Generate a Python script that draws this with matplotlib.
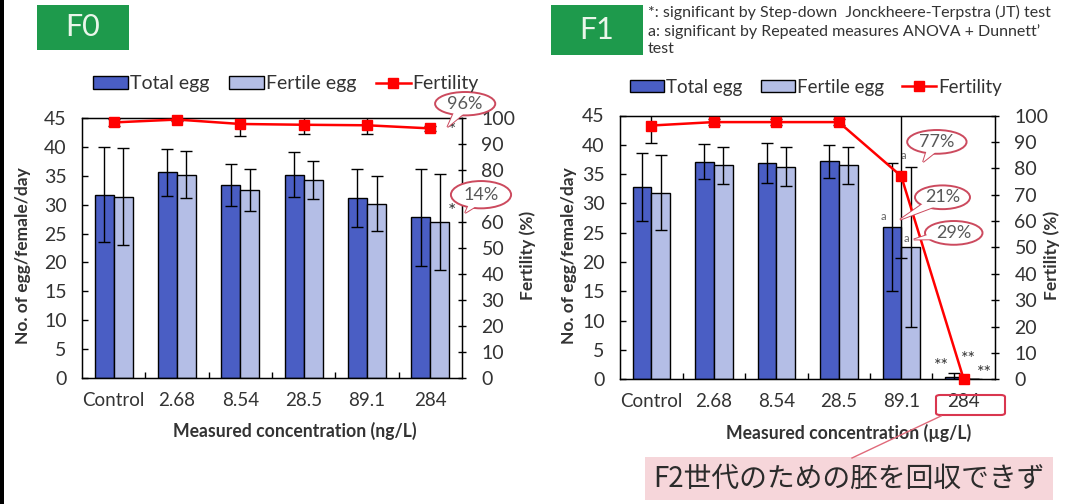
import matplotlib
matplotlib.use("Agg")
import matplotlib.pyplot as plt
import numpy as np
from matplotlib.patches import Patch, Ellipse, Polygon, Rectangle, FancyBboxPatch
from matplotlib.lines import Line2D

plt.rcParams['font.family'] = ['Lato', 'Noto Sans CJK JP', 'DejaVu Sans']

# ---- data -------------------------------------------------------------
categories = ["Control", "2.68", "8.54", "28.5", "89.1", "284"]

f0_total = [31.7, 35.6, 33.4, 35.2, 31.2, 27.8]
f0_total_err = [8.2, 4.1, 3.6, 3.9, 5.0, 8.4]
f0_fertile = [31.4, 35.2, 32.5, 34.2, 30.2, 27.0]
f0_fertile_err = [8.4, 4.1, 3.6, 3.3, 4.8, 8.3]
f0_fertility = [98.3, 99.4, 97.7, 97.4, 97.2, 96.0]
f0_fertility_err = [1.5, 0.5, 4.8, 3.4, 3.4, 1.0]

f1_total = [32.8, 37.1, 36.9, 37.2, 26.0, 0.4]
f1_total_err = [5.8, 3.0, 3.4, 2.8, 10.9, 0.7]
f1_fertile = [31.8, 36.5, 36.3, 36.5, 22.6, 0.0]
f1_fertile_err = [6.4, 3.2, 3.4, 3.2, 13.7, 0.0]
f1_fertility = [96.2, 97.5, 97.5, 97.5, 77.0, 0.0]
f1_fertility_err = [6.6, 1.0, 1.0, 1.0, 31.1, 0.0]

# ---- style ------------------------------------------------------------
TOTAL_C = '#4a5ec4'
FERTILE_C = '#b4bee6'
LINE_C = '#ff0000'
TEXT_C = '#333333'
BUBBLE_EC = '#cc4a5e'
W, H = 1070, 504

fig = plt.figure(figsize=(W / 100, H / 100), dpi=100)
fig.patch.set_facecolor('white')


def fx(x):
    return x / W


def fy(y):
    return 1 - y / H


def draw_panel(rect, total, total_err, fertile, fertile_err, fert, fert_err, xlabel):
    left, top, right, bottom = rect
    ax = fig.add_axes([fx(left), fy(bottom), fx(right - left), (bottom - top) / H])
    x = np.arange(len(categories))
    w = 0.3
    err_kw = dict(ecolor='black', elinewidth=1.0, capsize=4.5, capthick=1.0)
    ax.bar(x - w / 2, total, w, yerr=total_err, color=TOTAL_C, edgecolor='black',
           linewidth=1.0, error_kw=err_kw, zorder=2)
    ax.bar(x + w / 2, fertile, w, yerr=fertile_err, color=FERTILE_C, edgecolor='black',
           linewidth=1.0, error_kw=err_kw, zorder=2)
    ax.set_xlim(-0.5, len(categories) - 0.5)
    ax.set_ylim(0, 45)
    ax.set_yticks(np.arange(0, 46, 5))
    ax.set_xticks(x)
    ax.set_xticklabels(categories)
    ax.set_xticks(x[:-1] + 0.5, minor=True)
    ax.tick_params(axis='x', which='major', length=0, pad=10, labelsize=13.5, labelcolor=TEXT_C)
    ax.tick_params(axis='x', which='minor', direction='in', length=4, width=1)
    ax.tick_params(axis='y', direction='in', length=4, width=1, pad=11, labelsize=14,
                   labelcolor=TEXT_C)
    for s in ax.spines.values():
        s.set_linewidth(1.0)
    ax.set_xlabel(xlabel, fontsize=12.7, fontweight='bold', color=TEXT_C)
    ax.set_ylabel('No. of egg/female/day', fontsize=12.5, fontweight='bold', color=TEXT_C)

    ax2 = ax.twinx()
    ax2.set_ylim(0, 100)
    ax2.set_yticks(np.arange(0, 101, 10))
    ax2.tick_params(axis='y', direction='inout', length=6, width=1, pad=11, labelsize=14,
                    labelcolor=TEXT_C)
    ax2.errorbar(x, fert, yerr=fert_err, fmt='none', ecolor='black', elinewidth=1.0,
                 capsize=4.5, capthick=1.0, zorder=3)
    ax2.plot(x, fert, color=LINE_C, lw=1.8, marker='s', ms=7.5, clip_on=False, zorder=4)
    ax2.set_ylabel('Fertility (%)', fontsize=12.5, fontweight='bold', color=TEXT_C)
    return ax, ax2


def bubble(ax, text, center, tip, w=0.95, h=9.0):
    """Speech-bubble callout: ellipse with a tail pointing at `tip` (data coords of ax)."""
    t = ax.transData
    c = np.array(t.transform(center))
    p = np.array(t.transform(tip))
    d = p - c
    d = d / np.hypot(*d)
    perp = np.array([-d[1], d[0]])
    base = c + d * 8
    b1 = t.inverted().transform(base + perp * 5)
    b2 = t.inverted().transform(base - perp * 5)
    tri = [b1, tip, b2]
    ax.add_patch(Polygon(tri, closed=True, fc='white', ec=BUBBLE_EC, lw=1.4,
                         clip_on=False, zorder=10))
    ax.add_patch(Ellipse(center, w, h, fc='white', ec=BUBBLE_EC, lw=1.4,
                         clip_on=False, zorder=11))
    ax.add_patch(Polygon(tri, closed=True, fc='white', ec='none',
                         clip_on=False, zorder=12))
    ax.text(center[0], center[1], text, ha='center', va='center', fontsize=13,
            color='#595959', zorder=13, clip_on=False)


# ---- F0 panel ----------------------------------------------------------
ax0, ax0r = draw_panel((82, 118, 462, 378), f0_total, f0_total_err, f0_fertile,
                       f0_fertile_err, f0_fertility, f0_fertility_err,
                       'Measured concentration (ng/L)')
ax0.xaxis.set_label_coords(0.56, -0.17)
ax0.yaxis.set_label_coords(-0.135, 0.47)
ax0r.yaxis.set_label_coords(1.15, 0.47)
# the 14% callout sits over the 70 label of the fertility scale
ax0r.set_yticklabels(['' if v == 70 else str(v) for v in range(0, 101, 10)])

ax0r.text(5.27, 95.0, '*', fontsize=14, color=TEXT_C, ha='left', va='center', zorder=6)
ax0.text(5.27, 28.8, '*', fontsize=14, color=TEXT_C, ha='left', va='center', zorder=6)
bubble(ax0r, '96%', (5.55, 105.5), (5.27, 96.5))
bubble(ax0r, '14%', (5.8, 70.5), (5.55, 63.5), h=10.5)

# ---- F1 panel ----------------------------------------------------------
ax1, ax1r = draw_panel((620, 115.5, 995, 379.3), f1_total, f1_total_err, f1_fertile,
                       f1_fertile_err, f1_fertility, f1_fertility_err,
                       'Measured concentration (\u00b5g/L)')
ax1.xaxis.set_label_coords(0.61, -0.17)
ax1.yaxis.set_label_coords(-0.115, 0.47)
ax1r.yaxis.set_label_coords(1.128, 0.47)

for (xs, ys) in [(4.65, 2.3), (5.07, 3.5), (5.33, 1.1)]:
    ax1.text(xs, ys, '**', fontsize=13, color=TEXT_C, ha='center', va='center', zorder=6)
for (xs, ys) in [(3.71, 26.9), (4.03, 37.2), (4.09, 23.0)]:
    ax1.text(xs, ys, 'a', fontsize=8, color='#666666', ha='center', va='bottom', zorder=6)
bubble(ax1r, '77%', (4.57, 90.0), (4.35, 82.4))
bubble(ax1r, '21%', (4.66, 69.0), (3.98, 60.5), w=0.88)
bubble(ax1r, '29%', (4.84, 55.5), (4.2, 53.0), w=0.92)

# ---- legends -----------------------------------------------------------
handles = [Patch(facecolor=TOTAL_C, edgecolor='black', lw=1.0),
           Patch(facecolor=FERTILE_C, edgecolor='black', lw=1.0),
           Line2D([], [], color=LINE_C, lw=1.8, marker='s', ms=7.5)]
labels = ['Total egg', 'Fertile egg', 'Fertility']
for cx, cy, fs in [(286, 84, 14), (816, 87, 13.5)]:
    fig.legend(handles, labels, loc='center', bbox_to_anchor=(fx(cx), fy(cy)), ncol=3,
               frameon=False, fontsize=fs, handlelength=1.8, handleheight=0.6,
               handletextpad=0.1, columnspacing=1.0, labelcolor=TEXT_C,
               borderpad=0.2)

# ---- generation tags and notes ----------------------------------------
for label, (x0, y0, x1, y1) in [('F0', (37, 5, 129, 50)), ('F1', (551, 5, 643, 55))]:
    fig.patches.append(Rectangle((fx(x0), fy(y1)), fx(x1 - x0), (y1 - y0) / H,
                                 transform=fig.transFigure, fc='#1e9a4c', ec='none'))
    fig.text(fx((x0 + x1) / 2), fy((y0 + y1) / 2), label, ha='center', va='center',
             fontsize=22, color='#eaf6ea')

fig.text(fx(648), fy(5),
         "*: significant by Step-down  Jonckheere-Terpstra (JT) test\n"
         "a: significant by Repeated measures ANOVA + Dunnett\u2019\n"
         "test",
         ha='left', va='top', fontsize=11.5, color=TEXT_C, linespacing=1.3)

# left border rule
fig.patches.append(Rectangle((0, 0), fx(4), 1, transform=fig.transFigure,
                             fc='black', ec='none'))

# highlight around the 284 tick label and the callout box
fig.patches.append(FancyBboxPatch((fx(936), fy(415)), fx(69), 20 / H,
                                  boxstyle='round,pad=0,rounding_size=0.004',
                                  transform=fig.transFigure, fc='none',
                                  ec='#d9364f', lw=1.5))
fig.lines.append(Line2D([fx(852), fx(941)], [fy(458), fy(416)], transform=fig.transFigure,
                        color='#e06a7a', lw=1.0))
fig.patches.append(Rectangle((fx(645), fy(500)), fx(408), 43 / H,
                             transform=fig.transFigure, fc='#f6d6da', ec='none'))
fig.text(fx(849), fy(478.5), 'F2世代のための胚を回収できず', ha='center', va='center',
         fontsize=20, color='#2b2b2b', family=['Noto Sans CJK JP', 'DejaVu Sans'])

fig.savefig('out.png', dpi=100, facecolor='white')
